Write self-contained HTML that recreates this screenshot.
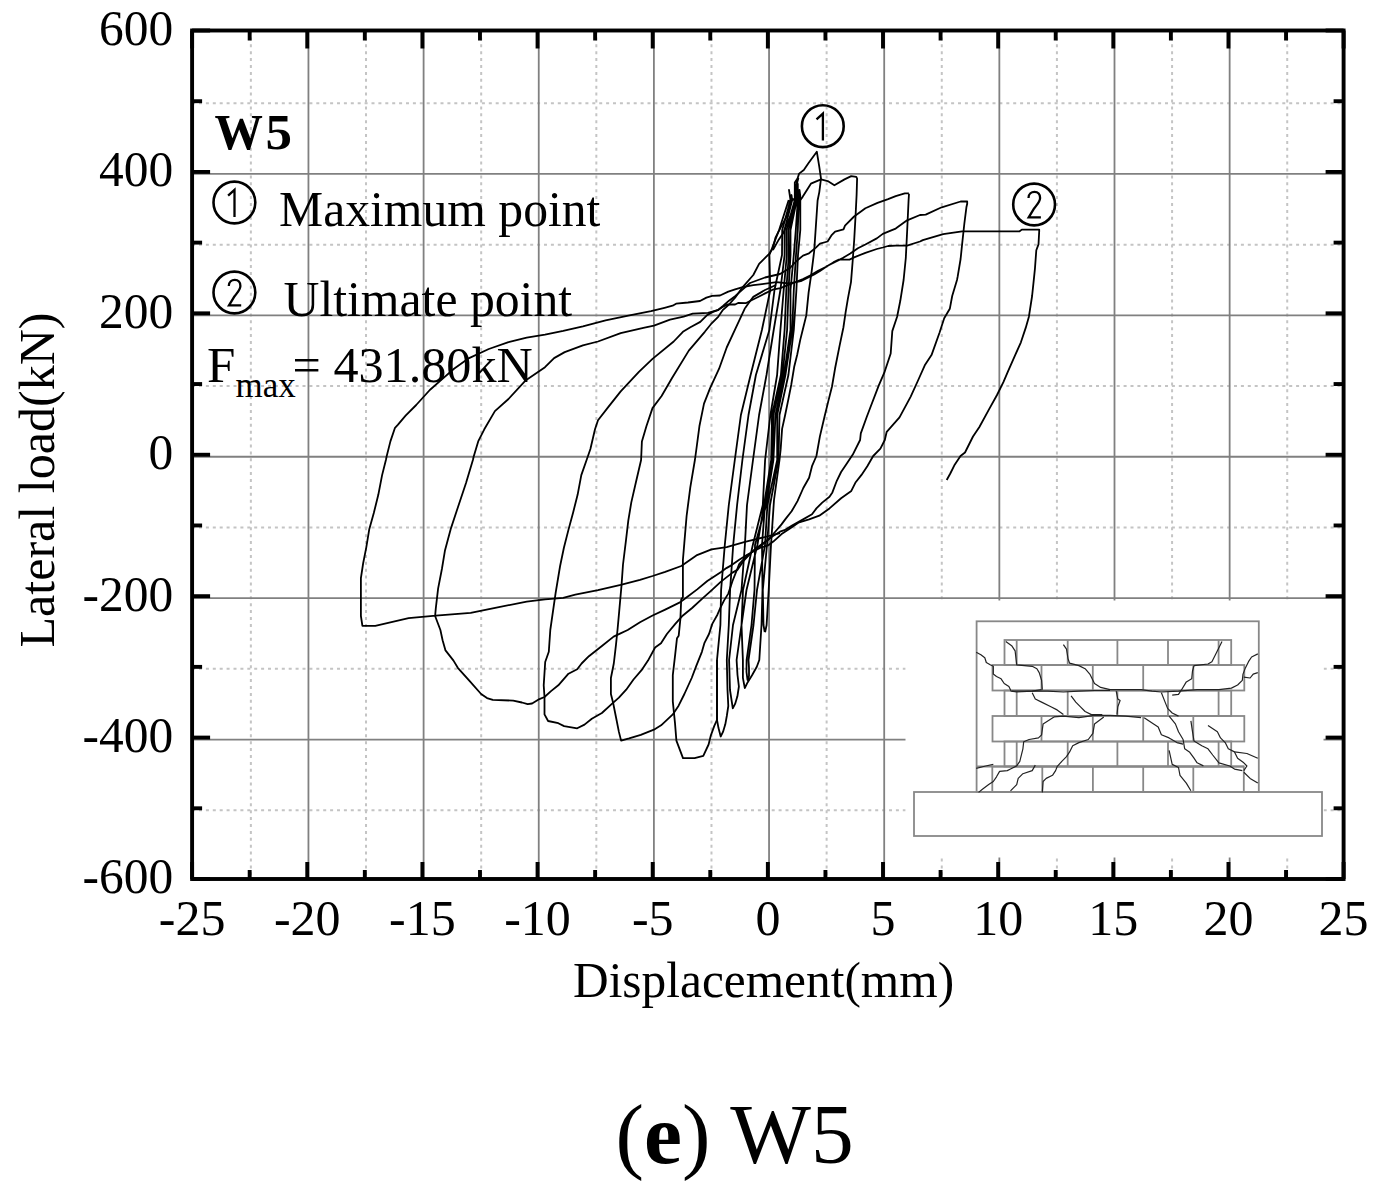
<!DOCTYPE html>
<html><head><meta charset="utf-8"><style>
html,body{margin:0;padding:0;background:#fff;}
body{width:1374px;height:1189px;overflow:hidden;position:relative;}
svg{position:absolute;left:0;top:0;}
text{font-family:"Liberation Serif",serif;fill:#000;}
.gd{stroke:#c4c4c4;stroke-width:2;stroke-dasharray:3 3.9;}
.gs{stroke:#808080;stroke-width:1.8;}
</style></head><body>
<svg width="1374" height="1189" viewBox="0 0 1374 1189">
<rect x="0" y="0" width="1374" height="1189" fill="#fff"/>
<g>
<line x1="250.87" y1="30.5" x2="250.87" y2="879.0" class="gd"/>
<line x1="366.02" y1="30.5" x2="366.02" y2="879.0" class="gd"/>
<line x1="481.18" y1="30.5" x2="481.18" y2="879.0" class="gd"/>
<line x1="596.33" y1="30.5" x2="596.33" y2="879.0" class="gd"/>
<line x1="711.48" y1="30.5" x2="711.48" y2="879.0" class="gd"/>
<line x1="826.63" y1="30.5" x2="826.63" y2="879.0" class="gd"/>
<line x1="941.78" y1="30.5" x2="941.78" y2="879.0" class="gd"/>
<line x1="1056.92" y1="30.5" x2="1056.92" y2="879.0" class="gd"/>
<line x1="1172.08" y1="30.5" x2="1172.08" y2="879.0" class="gd"/>
<line x1="1287.23" y1="30.5" x2="1287.23" y2="879.0" class="gd"/>
<line x1="192.1" y1="810.29" x2="1343.6" y2="810.29" class="gd"/>
<line x1="192.1" y1="668.87" x2="1343.6" y2="668.87" class="gd"/>
<line x1="192.1" y1="527.46" x2="1343.6" y2="527.46" class="gd"/>
<line x1="192.1" y1="386.04" x2="1343.6" y2="386.04" class="gd"/>
<line x1="192.1" y1="244.63" x2="1343.6" y2="244.63" class="gd"/>
<line x1="192.1" y1="103.21" x2="1343.6" y2="103.21" class="gd"/>
<line x1="308.45" y1="30.5" x2="308.45" y2="879.0" class="gs"/>
<line x1="423.60" y1="30.5" x2="423.60" y2="879.0" class="gs"/>
<line x1="538.75" y1="30.5" x2="538.75" y2="879.0" class="gs"/>
<line x1="653.90" y1="30.5" x2="653.90" y2="879.0" class="gs"/>
<line x1="769.05" y1="30.5" x2="769.05" y2="879.0" class="gs"/>
<line x1="884.20" y1="30.5" x2="884.20" y2="879.0" class="gs"/>
<line x1="999.35" y1="30.5" x2="999.35" y2="879.0" class="gs"/>
<line x1="1114.50" y1="30.5" x2="1114.50" y2="879.0" class="gs"/>
<line x1="1229.65" y1="30.5" x2="1229.65" y2="879.0" class="gs"/>
<line x1="192.1" y1="739.58" x2="1343.6" y2="739.58" class="gs"/>
<line x1="192.1" y1="598.17" x2="1343.6" y2="598.17" class="gs"/>
<line x1="192.1" y1="456.75" x2="1343.6" y2="456.75" class="gs"/>
<line x1="192.1" y1="315.33" x2="1343.6" y2="315.33" class="gs"/>
<line x1="192.1" y1="173.92" x2="1343.6" y2="173.92" class="gs"/>
</g>
<rect x="905.5" y="600.5" width="418" height="257" fill="#fff"/>
<rect x="914" y="792" width="408" height="44" stroke="#888" stroke-width="1.8" fill="none"/>
<rect x="976.6" y="621.3" width="282.2" height="170.7" stroke="#888" stroke-width="1.8" fill="none"/>
<rect x="1004.5" y="640" width="226.7" height="25.0" stroke="#888" stroke-width="1.8" fill="none"/>
<line x1="1016.7" y1="640" x2="1016.7" y2="665" stroke="#888" stroke-width="1.8" fill="none"/>
<line x1="1067.7" y1="640" x2="1067.7" y2="665" stroke="#888" stroke-width="1.8" fill="none"/>
<line x1="1117.4" y1="640" x2="1117.4" y2="665" stroke="#888" stroke-width="1.8" fill="none"/>
<line x1="1168" y1="640" x2="1168" y2="665" stroke="#888" stroke-width="1.8" fill="none"/>
<line x1="1218.6" y1="640" x2="1218.6" y2="665" stroke="#888" stroke-width="1.8" fill="none"/>
<rect x="992.5" y="665" width="251.8" height="25.5" stroke="#888" stroke-width="1.8" fill="none"/>
<line x1="1041.5" y1="665" x2="1041.5" y2="690.5" stroke="#888" stroke-width="1.8" fill="none"/>
<line x1="1092.8" y1="665" x2="1092.8" y2="690.5" stroke="#888" stroke-width="1.8" fill="none"/>
<line x1="1143.2" y1="665" x2="1143.2" y2="690.5" stroke="#888" stroke-width="1.8" fill="none"/>
<line x1="1193.3" y1="665" x2="1193.3" y2="690.5" stroke="#888" stroke-width="1.8" fill="none"/>
<rect x="1004.5" y="690.5" width="226.7" height="25.5" stroke="#888" stroke-width="1.8" fill="none"/>
<line x1="1016.7" y1="690.5" x2="1016.7" y2="716" stroke="#888" stroke-width="1.8" fill="none"/>
<line x1="1067.7" y1="690.5" x2="1067.7" y2="716" stroke="#888" stroke-width="1.8" fill="none"/>
<line x1="1117.4" y1="690.5" x2="1117.4" y2="716" stroke="#888" stroke-width="1.8" fill="none"/>
<line x1="1168" y1="690.5" x2="1168" y2="716" stroke="#888" stroke-width="1.8" fill="none"/>
<line x1="1218.6" y1="690.5" x2="1218.6" y2="716" stroke="#888" stroke-width="1.8" fill="none"/>
<rect x="992.5" y="716" width="251.8" height="25.5" stroke="#888" stroke-width="1.8" fill="none"/>
<line x1="1041.5" y1="716" x2="1041.5" y2="741.5" stroke="#888" stroke-width="1.8" fill="none"/>
<line x1="1092.8" y1="716" x2="1092.8" y2="741.5" stroke="#888" stroke-width="1.8" fill="none"/>
<line x1="1143.2" y1="716" x2="1143.2" y2="741.5" stroke="#888" stroke-width="1.8" fill="none"/>
<line x1="1193.3" y1="716" x2="1193.3" y2="741.5" stroke="#888" stroke-width="1.8" fill="none"/>
<rect x="1004.5" y="741.5" width="226.7" height="25.0" stroke="#888" stroke-width="1.8" fill="none"/>
<line x1="1016.7" y1="741.5" x2="1016.7" y2="766.5" stroke="#888" stroke-width="1.8" fill="none"/>
<line x1="1067.7" y1="741.5" x2="1067.7" y2="766.5" stroke="#888" stroke-width="1.8" fill="none"/>
<line x1="1117.4" y1="741.5" x2="1117.4" y2="766.5" stroke="#888" stroke-width="1.8" fill="none"/>
<line x1="1168" y1="741.5" x2="1168" y2="766.5" stroke="#888" stroke-width="1.8" fill="none"/>
<line x1="1218.6" y1="741.5" x2="1218.6" y2="766.5" stroke="#888" stroke-width="1.8" fill="none"/>
<rect x="992.3" y="766.5" width="251.5" height="25.5" stroke="#888" stroke-width="1.8" fill="none"/>
<line x1="1042.3" y1="766.5" x2="1042.3" y2="792" stroke="#888" stroke-width="1.8" fill="none"/>
<line x1="1092.9" y1="766.5" x2="1092.9" y2="792" stroke="#888" stroke-width="1.8" fill="none"/>
<line x1="1143.2" y1="766.5" x2="1143.2" y2="792" stroke="#888" stroke-width="1.8" fill="none"/>
<line x1="1193.3" y1="766.5" x2="1193.3" y2="792" stroke="#888" stroke-width="1.8" fill="none"/>
<line x1="976.6" y1="766.5" x2="1244" y2="766.5" stroke="#888" stroke-width="1.8" fill="none"/>
<g fill="none" stroke="#222" stroke-width="1.2" stroke-linejoin="round">
<path d="M976.2 652.3 L980.9 654.7 L984.8 657.8 L986.3 662.5 L990.2 664.8 L993.3 666.3 L993.3 674.1 L996.5 676.5 L1001.1 678.8 L1004.2 683.5 L1008.9 686.6 L1011.2 691.2 L1016.7 692.0 L1032.2 691.2 L1041.6 689.7"/>
<path d="M1005.8 641.5 L1012.0 646.1 L1015.1 650.8 L1016.7 664.8 L1032.2 666.3 L1036.9 668.7 L1039.2 672.6 L1041.6 680.3 L1042.3 689.7"/>
<path d="M1063.4 644.6 L1066.5 649.2 L1068.0 658.6 L1069.6 663.2 L1078.9 665.6 L1085.1 668.7 L1089.8 674.1 L1092.9 680.3 L1094.5 683.5 L1100.7 687.4 L1110.0 689.7 L1125.6 689.7 L1141.1 689.7 L1152.0 691.2 L1161.4 692.0 L1178.5 691.2 L1197.1 689.7 L1218.9 689.7 L1231.4 688.1 L1237.6 685.0 L1242.3 680.4 L1243.0 674.1 L1245.4 667.9 L1248.5 661.7 L1251.6 657.0 L1257.8 653.9"/>
<path d="M1012.0 691.2 L1047.8 691.2 L1063.4 692.0 L1078.9 691.2 L1094.5 690.5 L1110.0 690.5"/>
<path d="M1032.2 692.8 L1035.3 699.0 L1041.6 702.1 L1050.9 706.8 L1057.1 709.9 L1063.4 714.6"/>
<path d="M1071.1 695.9 L1075.8 702.1 L1080.5 706.8 L1085.1 711.5 L1091.4 714.6 L1102.3 714.6"/>
<path d="M1054.0 716.9 L1063.4 716.1 L1078.9 717.7 L1094.5 715.4 L1105.4 715.4 L1110.0 715.4 L1125.6 716.1 L1141.1 717.7"/>
<path d="M1054.0 716.9 L1043.1 723.9 L1041.6 734.8 L1038.5 737.9 L1029.1 739.5 L1023.7 741.8 L1022.9 748.8 L1019.8 761.3 L1016.7 765.9 L1010.5 769.0 L1007.3 770.6 L999.6 771.4 L996.5 776.8 L993.3 781.5 L988.7 784.6 L982.4 789.3 L978.6 792.4"/>
<path d="M1103.8 716.9 L1094.5 723.9 L1092.9 733.3 L1088.3 739.5 L1078.9 742.6 L1072.7 745.7 L1069.6 751.9 L1066.5 756.6 L1061.8 761.3 L1057.1 766.7 L1055.6 770.6 L1052.5 775.3 L1046.2 778.4 L1043.1 781.5 L1042.3 792.4"/>
<path d="M1035.3 765.1 L1032.2 770.6 L1022.9 773.7 L1018.2 778.4 L1016.7 784.6 L1010.5 790.8"/>
<path d="M976.2 768.3 L985.6 766.0 L993.3 764.4"/>
<path d="M1222.0 641.5 L1218.9 647.7 L1215.8 653.9 L1211.9 661.7 L1208.0 664.0 L1194.0 665.6 L1192.5 671.0 L1191.7 678.8 L1186.3 681.9 L1181.6 689.7 L1178.5 694.4 L1172.2 695.1"/>
<path d="M1243.8 677.2 L1250.1 678.0 L1253.2 674.1 L1257.8 672.6"/>
<path d="M1116.2 691.2 L1117.8 699.0 L1120.1 700.6 L1117.8 706.8 L1117.0 714.6"/>
<path d="M1161.4 692.8 L1164.5 700.6 L1167.6 708.4 L1172.2 713.0 L1178.5 716.1"/>
<path d="M1169.1 716.1 L1175.4 723.9 L1178.5 731.7 L1183.1 739.5 L1184.7 748.8 L1189.4 751.9 L1194.0 758.2 L1197.1 762.8 L1203.4 765.9"/>
<path d="M1144.2 717.7 L1153.6 723.9 L1158.2 727.0 L1161.4 734.8 L1169.1 737.9 L1176.9 742.6 L1183.1 744.2"/>
<path d="M1190.9 720.8 L1192.5 731.7 L1194.0 741.0 L1201.8 745.7 L1208.0 748.8 L1212.7 755.0 L1218.9 762.8 L1229.8 766.0 L1234.5 769.1 L1242.3 770.6"/>
<path d="M1208.0 725.5 L1217.4 731.7 L1220.5 737.9 L1225.2 742.6 L1228.3 748.8 L1234.5 751.9 L1237.6 758.2 L1243.8 762.8 L1246.9 766.0 L1243.8 770.6"/>
<path d="M1234.5 751.9 L1246.9 753.5 L1257.8 758.2"/>
<path d="M1243.8 772.2 L1250.1 778.4 L1257.8 783.1"/>
<path d="M1169.1 750.4 L1172.2 764.4 L1178.5 767.5 L1180.0 775.3 L1186.3 783.1 L1190.9 790.8"/>
</g>
<g fill="none" stroke="#000" stroke-width="1.8" stroke-linejoin="round">
<path d="M780.0 533.2 L765.0 537.0 L752.1 540.1 L745.0 541.8 L726.7 547.1 L711.5 549.3 L696.4 555.4 L681.3 566.0 L665.2 571.8 L652.6 576.0 L640.0 579.8 L620.7 584.9 L598.0 590.2 L575.3 594.7 L563.2 597.8 L545.0 599.3 L526.7 601.6 L496.4 607.6 L470.7 612.9 L435.8 615.6 L408.6 618.2 L375.3 625.8 L362.4 625.8 L360.9 616.0 L360.9 578.1 L363.2 563.0 L366.2 547.8 L369.2 529.6 L373.8 513.0 L378.3 494.8 L382.1 475.1 L385.9 460.0 L386.6 456.5 L390.4 441.4 L395.0 427.8 L398.0 424.7 L405.6 415.7 L416.2 405.0 L423.0 397.5 L429.8 390.0 L441.9 379.3 L454.0 368.7 L469.1 358.1 L488.8 349.0 L508.5 342.2 L526.7 337.7 L545.0 334.7 L563.2 330.9 L582.9 326.3 L605.6 320.3 L628.3 315.7 L651.0 311.2 L664.5 307.8 L672.6 305.7 L676.1 303.7 L688.0 302.5 L700.0 301.0 L706.4 297.6 L712.2 295.8 L720.0 295.5 L728.3 291.6 L735.1 289.4 L742.7 287.1 L753.3 285.2 L760.0 284.4 L776.5 282.1 L789.0 283.5 L800.8 281.2 L814.2 274.5 L820.0 271.0 L827.6 265.7 L835.1 261.9 L842.7 258.1 L850.3 253.6 L857.9 248.3 L865.4 244.5 L876.8 238.4 L882.8 233.9 L891.9 230.1 L895.7 228.6 L907.1 220.3 L920.0 215.0 L925.7 214.6 L941.7 207.3 L960.6 201.5 L967.2 201.5 L967.2 203.7 L966.4 207.3 L964.3 224.0 L962.1 244.4 L960.6 259.0 L957.7 276.4 L957.0 280.0 L952.2 296.0 L949.8 308.8 L944.2 318.3 L939.5 332.7 L931.5 355.1 L925.1 364.7 L918.7 379.0 L910.7 396.6 L899.5 417.4 L886.7 431.8 L884.8 440.0 L880.4 448.7 L873.2 456.0 L867.3 466.2 L861.5 474.9 L855.7 482.2 L851.3 490.9 L841.1 498.2 L829.5 508.4 L819.3 515.7 L809.1 519.3 L798.3 522.7 L790.7 528.0 L781.6 534.1 L773.3 541.6 L768.0 545.4 L760.4 547.7 L747.6 554.5 L739.2 559.8 L731.7 565.1 L726.4 568.1 L721.1 571.9 L707.3 581.0 L697.2 589.4 L687.1 597.0 L680.4 602.1 L665.2 609.6 L652.6 615.5 L640.0 622.2 L627.7 630.0 L620.0 633.6 L613.6 636.6 L601.9 646.0 L588.9 656.2 L581.6 663.5 L577.2 669.3 L568.5 673.7 L558.3 685.3 L551.0 691.1 L544.5 697.0 L539.4 699.1 L532.1 703.5 L527.7 704.2 L521.9 702.5 L513.2 700.6 L492.8 699.9 L487.0 698.1 L481.1 694.0 L469.5 680.9 L457.8 667.8 L453.5 660.6 L445.5 650.4 L442.6 640.2 L440.4 630.0 L435.1 616.0 L435.8 608.4 L438.1 588.7 L441.9 569.0 L444.9 550.8 L451.0 528.1 L457.0 510.0 L466.1 482.7 L472.9 460.0 L473.7 456.5 L478.2 441.4 L484.3 429.3 L494.9 411.1 L508.5 399.0 L525.2 380.8 L545.0 367.2 L554.1 358.1 L564.7 352.1 L582.9 345.3 L598.0 341.5 L620.7 333.1 L643.4 327.9 L654.0 325.6 L670.0 319.6 L683.6 316.6 L692.7 313.6 L707.9 312.8 L718.4 309.8 L723.0 306.8 L727.5 304.5 L735.1 304.5 L738.1 303.0 L745.7 303.2 L750.0 301.0 L757.6 297.2 L765.1 293.4 L772.7 289.7 L780.3 288.1 L795.4 282.1 L803.0 279.1 L810.6 275.3 L818.1 270.7 L825.7 267.0 L833.3 262.4 L838.9 259.6 L849.5 259.6 L854.1 257.4 L865.4 252.8 L876.8 249.0 L882.8 247.5 L888.1 246.0 L895.7 245.6 L907.1 245.6 L920.0 241.5 L922.8 240.1 L943.2 234.2 L962.1 231.3 L981.0 231.3 L998.5 231.3 L1019.6 231.3 L1021.8 229.6 L1039.2 229.6 L1039.2 231.3 L1038.5 244.4 L1036.3 250.2 L1034.9 269.2 L1033.4 283.7 L1032.1 296.0 L1028.9 316.7 L1025.7 327.9 L1020.9 342.3 L1014.5 356.7 L1008.1 371.1 L1003.4 382.2 L997.0 395.0 L989.0 409.4 L979.4 427.0 L973.0 436.5 L965.0 452.5 L960.5 456.0 L954.7 464.7 L950.3 473.5 L946.7 480.0"/>
<path d="M909.0 193.8 L908.6 200.0 L907.2 230.0 L905.8 258.0 L903.6 280.0 L900.3 300.8 L897.1 316.7 L892.3 331.1 L890.7 353.5 L884.3 372.7 L878.8 385.4 L870.8 406.2 L866.8 416.7 L860.8 433.4 L860.1 440.0 L852.8 454.6 L847.0 463.3 L841.1 472.0 L836.8 480.8 L832.4 492.4 L829.5 496.8 L822.2 502.6 L816.4 508.4 L812.0 514.2 L801.8 520.1 L791.6 525.9 L784.4 530.2 L780.0 531.7 L773.0 536.0 L762.0 544.0 L752.8 551.0 L743.8 560.6 L737.7 569.6 L732.5 572.6 L720.7 581.9 L711.5 590.3 L703.1 597.8 L692.1 608.0 L682.0 616.3 L675.3 623.9 L666.9 634.0 L661.0 643.3 L655.1 647.5 L648.0 660.6 L642.2 669.3 L633.5 679.5 L626.2 689.7 L618.9 697.7 L611.6 704.2 L601.9 713.0 L591.8 718.8 L584.5 724.6 L577.2 728.3 L564.1 726.1 L558.3 723.2 L548.1 721.0 L544.5 714.4 L544.5 697.0 L543.7 685.3 L545.2 662.0 L548.8 651.8 L550.3 630.0 L555.6 593.2 L560.1 566.0 L563.9 547.8 L568.5 529.6 L573.0 513.0 L577.6 494.8 L581.3 475.1 L586.6 460.0 L590.4 449.0 L595.0 429.3 L598.0 420.2 L608.6 406.6 L620.7 391.4 L638.9 371.8 L652.5 358.9 L673.7 341.5 L682.9 331.8 L690.4 327.2 L700.3 321.9 L707.1 315.1 L712.4 312.1 L718.4 309.8 L723.0 306.0 L729.0 300.7 L735.1 296.2 L741.9 290.1 L750.0 283.0 L765.0 277.5 L780.0 274.0 L790.0 268.0 L796.0 261.5 L803.0 255.6 L809.0 253.3 L815.9 247.6 L820.0 243.7 L827.6 241.5 L831.4 235.4 L835.1 231.6 L843.5 229.4 L845.0 225.6 L854.1 216.5 L865.4 208.2 L877.5 202.9 L888.1 199.1 L895.7 196.1 L904.8 193.4 L908.9 193.4"/>
<path d="M797.4 203.8 L802.5 197.1 L810.9 183.7 L821.0 179.4 L827.7 181.1 L834.4 185.3 L844.5 179.4 L851.2 176.1 L856.3 176.9 L857.1 178.6 L856.6 195.0 L855.6 215.0 L854.2 240.0 L852.6 262.0 L851.0 282.1 L847.9 298.7 L845.6 312.4 L843.4 327.5 L839.6 345.6 L835.1 368.3 L832.0 386.5 L828.2 401.6 L824.5 416.7 L819.9 436.4 L816.4 456.0 L812.0 466.2 L809.1 477.8 L803.3 488.0 L797.5 501.1 L791.6 511.3 L785.8 518.6 L781.5 524.4 L775.0 532.0 L768.0 540.0 L760.4 546.0 L752.0 552.0 L743.8 559.0 L739.2 564.2 L732.5 581.0 L728.3 593.6 L724.1 600.4 L720.7 607.1 L717.4 614.7 L712.3 623.9 L709.0 634.0 L704.5 642.8 L701.9 651.8 L696.1 666.4 L691.7 678.0 L684.4 694.0 L678.6 705.7 L672.8 714.4 L661.1 725.3 L653.9 729.7 L640.8 734.8 L629.1 738.4 L621.1 740.6 L618.9 731.9 L616.0 717.3 L613.1 702.8 L610.9 694.0 L610.9 678.0 L613.8 663.5 L616.0 644.6 L617.5 630.0 L619.2 611.4 L621.5 585.7 L623.0 564.5 L626.0 540.2 L628.3 520.6 L631.3 502.4 L635.8 482.7 L641.1 460.0 L641.9 441.4 L646.4 426.3 L652.5 408.1 L661.6 396.0 L672.2 377.8 L688.8 350.6 L704.8 331.8 L710.9 324.2 L718.4 316.6 L723.0 309.8 L729.0 304.5 L735.1 297.7 L742.7 287.1 L753.3 275.0 L759.1 263.9 L765.1 257.9 L768.9 254.1 L772.7 248.8 L775.6 237.3 L780.9 227.2 L786.3 217.1 L789.0 209.0 L790.4 200.3 L793.0 198.9 L797.4 203.8"/>
<path d="M772.9 250.0 L778.2 240.6 L783.6 232.5 L788.2 220.7 L793.3 210.6 L796.6 195.0 L796.4 182.0 L799.1 173.6 L803.8 170.0 L808.4 163.2 L816.8 151.7 L819.3 166.8 L821.0 178.6 L819.3 192.1 L817.6 200.5 L815.9 225.7 L814.2 251.0 L811.7 271.2 L808.6 292.7 L806.3 315.4 L803.3 327.5 L800.3 339.6 L797.2 354.7 L794.2 366.8 L791.2 385.0 L788.2 400.1 L785.1 415.2 L782.1 428.9 L780.6 449.9 L779.5 460.0 L774.0 500.0 L771.0 545.0 L768.7 590.0 L766.6 625.0 L765.1 632.2"/>
<path d="M745.0 308.2 L735.8 327.9 L726.7 347.5 L719.1 368.7 L710.0 388.4 L704.0 403.6 L699.4 426.3 L696.4 449.0 L694.9 460.0 L690.3 487.3 L686.6 516.0 L684.3 543.3 L682.9 560.0 L682.9 597.0 L681.2 599.5 L680.4 618.9 L678.7 635.7 L677.0 638.2 L675.0 656.2 L672.8 675.1 L672.8 701.3 L675.0 723.2 L676.4 740.6 L683.0 758.1 L694.6 758.1 L703.3 755.9 L708.6 744.5 L710.7 735.9 L714.3 725.9 L717.0 719.8 L717.0 700.0 L717.0 660.0"/>
<path d="M745.0 308.2 L748.7 303.0 L753.3 296.9 L765.0 290.0 L776.0 285.0"/>
<path d="M788.7 200.0 L779.1 230.0 L769.4 255.0 L770.3 290.0 L761.9 330.0 L750.6 375.0 L740.9 415.0 L734.8 460.0 L728.8 505.0 L724.8 545.0 L721.1 590.0 L720.4 625.0 L717.0 660.0 L717.0 700.0 L717.0 720.0 L718.5 728.1 L720.7 736.5 L723.0 731.9 L725.3 724.3 L726.8 716.0 L728.3 706.0 L727.5 690.0 L726.8 660.0 L728.8 625.0 L730.1 590.0 L733.2 545.0 L737.1 505.0 L742.4 460.0 L748.5 415.0 L755.9 375.0 L769.4 330.0 L774.5 290.0 L782.0 255.0 L782.2 230.0 L790.5 200.0 L789.0 190.0 L790.4 199.3 L791.5 195.0 L792.2 200.0 L784.5 230.0 L784.6 255.0 L780.4 290.0 L773.7 330.0 L766.5 375.0 L759.1 415.0 L753.0 460.0 L747.0 505.0 L744.9 545.0 L741.5 590.0 L733.0 625.0 L729.1 660.0 L730.0 690.0 L732.8 708.4 L735.1 703.9 L737.4 696.3 L738.9 686.5 L737.5 675.0 L736.6 660.0 L741.5 625.0 L743.0 590.0 L752.8 545.0 L762.8 505.0 L765.1 460.0 L770.4 415.0 L777.1 375.0 L780.4 330.0 L783.7 290.0 L786.8 255.0 L786.5 230.0 L794.8 200.0 L794.8 182.6 L796.8 179.6 L798.3 178.6 L796.5 185.0 L795.8 200.0 L788.5 230.0 L788.8 255.0 L786.3 290.0 L784.6 330.0 L780.9 375.0 L772.0 415.0 L771.2 460.0 L764.0 505.0 L757.4 545.0 L746.5 590.0 L741.5 625.0 L742.9 660.0 L742.9 677.8 L744.8 688.0 L747.6 682.4 L752.2 675.0 L756.8 666.7 L759.3 660.0 L761.5 625.0 L762.5 590.0 L762.0 545.0 L765.0 505.0 L772.3 460.0 L773.4 415.0 L782.5 375.0 L787.1 330.0 L788.5 290.0 L790.5 255.0 L790.5 230.0 L796.8 200.0 L797.0 182.0 L797.8 184.0 L797.8 200.0 L795.8 230.0 L793.8 255.0 L790.5 290.0 L790.5 330.0 L784.0 375.0 L775.5 415.0 L773.4 460.0 L766.2 505.0 L755.0 545.0 L754.5 590.0 L751.5 625.0 L746.6 660.0 L746.5 672.0 L747.5 680.0 L749.0 676.0 L749.0 668.0 L748.5 660.0 L753.5 625.0 L757.0 590.0 L765.0 545.0 L767.4 505.0 L777.2 460.0 L777.2 415.0 L785.4 375.0 L792.2 330.0 L793.8 290.0 L796.0 255.0 L797.8 230.0 L798.8 200.0 L799.5 190.0 L800.3 196.0 L800.3 200.0 L800.3 230.0 L798.0 255.0 L796.4 290.0 L793.8 330.0 L788.4 375.0 L779.5 415.0 L778.5 460.0 L770.0 505.0 L767.0 545.0 L762.8 590.0 L763.5 625.0 L764.7 632.0"/>
</g>
<g stroke="#000" stroke-width="3.9">
<line x1="192.10" y1="30.5" x2="192.10" y2="48.5"/>
<line x1="192.10" y1="879.0" x2="192.10" y2="862.0"/>
<line x1="249.67" y1="30.5" x2="249.67" y2="40.5"/>
<line x1="249.67" y1="879.0" x2="249.67" y2="870.0"/>
<line x1="307.25" y1="30.5" x2="307.25" y2="48.5"/>
<line x1="307.25" y1="879.0" x2="307.25" y2="862.0"/>
<line x1="364.82" y1="30.5" x2="364.82" y2="40.5"/>
<line x1="364.82" y1="879.0" x2="364.82" y2="870.0"/>
<line x1="422.40" y1="30.5" x2="422.40" y2="48.5"/>
<line x1="422.40" y1="879.0" x2="422.40" y2="862.0"/>
<line x1="479.98" y1="30.5" x2="479.98" y2="40.5"/>
<line x1="479.98" y1="879.0" x2="479.98" y2="870.0"/>
<line x1="537.55" y1="30.5" x2="537.55" y2="48.5"/>
<line x1="537.55" y1="879.0" x2="537.55" y2="862.0"/>
<line x1="595.12" y1="30.5" x2="595.12" y2="40.5"/>
<line x1="595.12" y1="879.0" x2="595.12" y2="870.0"/>
<line x1="652.70" y1="30.5" x2="652.70" y2="48.5"/>
<line x1="652.70" y1="879.0" x2="652.70" y2="862.0"/>
<line x1="710.27" y1="30.5" x2="710.27" y2="40.5"/>
<line x1="710.27" y1="879.0" x2="710.27" y2="870.0"/>
<line x1="767.85" y1="30.5" x2="767.85" y2="48.5"/>
<line x1="767.85" y1="879.0" x2="767.85" y2="862.0"/>
<line x1="825.43" y1="30.5" x2="825.43" y2="40.5"/>
<line x1="825.43" y1="879.0" x2="825.43" y2="870.0"/>
<line x1="883.00" y1="30.5" x2="883.00" y2="48.5"/>
<line x1="883.00" y1="879.0" x2="883.00" y2="862.0"/>
<line x1="940.58" y1="30.5" x2="940.58" y2="40.5"/>
<line x1="940.58" y1="879.0" x2="940.58" y2="870.0"/>
<line x1="998.15" y1="30.5" x2="998.15" y2="48.5"/>
<line x1="998.15" y1="879.0" x2="998.15" y2="862.0"/>
<line x1="1055.72" y1="30.5" x2="1055.72" y2="40.5"/>
<line x1="1055.72" y1="879.0" x2="1055.72" y2="870.0"/>
<line x1="1113.30" y1="30.5" x2="1113.30" y2="48.5"/>
<line x1="1113.30" y1="879.0" x2="1113.30" y2="862.0"/>
<line x1="1170.88" y1="30.5" x2="1170.88" y2="40.5"/>
<line x1="1170.88" y1="879.0" x2="1170.88" y2="870.0"/>
<line x1="1228.45" y1="30.5" x2="1228.45" y2="48.5"/>
<line x1="1228.45" y1="879.0" x2="1228.45" y2="862.0"/>
<line x1="1286.03" y1="30.5" x2="1286.03" y2="40.5"/>
<line x1="1286.03" y1="879.0" x2="1286.03" y2="870.0"/>
<line x1="1343.60" y1="30.5" x2="1343.60" y2="48.5"/>
<line x1="1343.60" y1="879.0" x2="1343.60" y2="862.0"/>
<line x1="192.1" y1="879.00" x2="210.1" y2="879.00"/>
<line x1="1343.6" y1="879.00" x2="1325.6" y2="879.00"/>
<line x1="192.1" y1="808.29" x2="202.1" y2="808.29"/>
<line x1="1343.6" y1="808.29" x2="1333.6" y2="808.29"/>
<line x1="192.1" y1="737.58" x2="210.1" y2="737.58"/>
<line x1="1343.6" y1="737.58" x2="1325.6" y2="737.58"/>
<line x1="192.1" y1="666.87" x2="202.1" y2="666.87"/>
<line x1="1343.6" y1="666.87" x2="1333.6" y2="666.87"/>
<line x1="192.1" y1="596.17" x2="210.1" y2="596.17"/>
<line x1="1343.6" y1="596.17" x2="1325.6" y2="596.17"/>
<line x1="192.1" y1="525.46" x2="202.1" y2="525.46"/>
<line x1="1343.6" y1="525.46" x2="1333.6" y2="525.46"/>
<line x1="192.1" y1="454.75" x2="210.1" y2="454.75"/>
<line x1="1343.6" y1="454.75" x2="1325.6" y2="454.75"/>
<line x1="192.1" y1="384.04" x2="202.1" y2="384.04"/>
<line x1="1343.6" y1="384.04" x2="1333.6" y2="384.04"/>
<line x1="192.1" y1="313.33" x2="210.1" y2="313.33"/>
<line x1="1343.6" y1="313.33" x2="1325.6" y2="313.33"/>
<line x1="192.1" y1="242.63" x2="202.1" y2="242.63"/>
<line x1="1343.6" y1="242.63" x2="1333.6" y2="242.63"/>
<line x1="192.1" y1="171.92" x2="210.1" y2="171.92"/>
<line x1="1343.6" y1="171.92" x2="1325.6" y2="171.92"/>
<line x1="192.1" y1="101.21" x2="202.1" y2="101.21"/>
<line x1="1343.6" y1="101.21" x2="1333.6" y2="101.21"/>
<line x1="192.1" y1="30.50" x2="210.1" y2="30.50"/>
<line x1="1343.6" y1="30.50" x2="1325.6" y2="30.50"/>
</g>
<rect x="192.10" y="30.50" width="1151.50" height="848.50" fill="none" stroke="#000" stroke-width="3.9"/>
<g font-size="51">
<text transform="translate(173.3,893.3) scale(0.97,1)" text-anchor="end">-600</text>
<text transform="translate(173.3,751.9) scale(0.97,1)" text-anchor="end">-400</text>
<text transform="translate(173.3,610.5) scale(0.97,1)" text-anchor="end">-200</text>
<text transform="translate(173.3,469.1) scale(0.97,1)" text-anchor="end">0</text>
<text transform="translate(173.3,327.6) scale(0.97,1)" text-anchor="end">200</text>
<text transform="translate(173.3,186.2) scale(0.97,1)" text-anchor="end">400</text>
<text transform="translate(173.3,44.8) scale(0.97,1)" text-anchor="end">600</text>
<text transform="translate(192.1,934.5) scale(0.98,1)" text-anchor="middle">-25</text>
<text transform="translate(307.2,934.5) scale(0.98,1)" text-anchor="middle">-20</text>
<text transform="translate(422.4,934.5) scale(0.98,1)" text-anchor="middle">-15</text>
<text transform="translate(537.5,934.5) scale(0.98,1)" text-anchor="middle">-10</text>
<text transform="translate(652.7,934.5) scale(0.98,1)" text-anchor="middle">-5</text>
<text transform="translate(767.9,934.5) scale(0.98,1)" text-anchor="middle">0</text>
<text transform="translate(883.0,934.5) scale(0.98,1)" text-anchor="middle">5</text>
<text transform="translate(998.2,934.5) scale(0.98,1)" text-anchor="middle">10</text>
<text transform="translate(1113.3,934.5) scale(0.98,1)" text-anchor="middle">15</text>
<text transform="translate(1228.5,934.5) scale(0.98,1)" text-anchor="middle">20</text>
<text transform="translate(1343.6,934.5) scale(0.98,1)" text-anchor="middle">25</text>
<text transform="translate(573,996.8) scale(0.968,1)">Displacement(mm)</text>
<text transform="translate(54,647.5) rotate(-90) scale(0.982,1)">Lateral load(kN)</text>
<text transform="translate(214.5,148.8) scale(0.95,1)" font-weight="bold">W</text>
<text transform="translate(265.5,148.8) scale(1.04,1)" font-weight="bold">5</text>
<text transform="translate(279,225.8) scale(0.974,1)">Maximum point</text>
<text transform="translate(283.5,316.2) scale(0.975,1)">Ultimate point</text>
<text transform="translate(207,382.4)">F</text>
<text transform="translate(235.5,397)" font-size="35">max</text>
<text transform="translate(292.6,382.4) scale(0.984,1)">= 431.80kN</text>
</g>
<g fill="none" stroke="#000" stroke-width="2.6">
<circle cx="234.4" cy="202.5" r="20.9"/><path stroke-width="2.3" d="M228.1 195.7 L234.5 189.9 L234.5 216.9"/>
<circle cx="234.4" cy="292.5" r="20.9"/><path stroke-width="2.3" d="M228.8 286.0 C228.8 281.7 231.9 279.9 234.8 279.9 C238.4 279.9 240.4 282.5 240.4 285.9 C240.4 289.5 237.4 292.5 234.4 296.5 L229.0 305.4 L241.2 305.4"/>
<circle cx="822.8" cy="126.2" r="20.9"/><path stroke-width="2.3" d="M816.5 119.4 L822.9 113.6 L822.9 140.6"/>
<circle cx="1034.1" cy="204.5" r="20.9"/><path stroke-width="2.3" d="M1028.5 198.0 C1028.5 193.7 1031.6 191.9 1034.5 191.9 C1038.1 191.9 1040.1 194.5 1040.1 197.9 C1040.1 201.5 1037.1 204.5 1034.1 208.5 L1028.7 217.4 L1040.9 217.4"/>
</g>
<text transform="translate(615.5,1163.4)" font-size="85.5">(<tspan font-weight="bold">e</tspan>) W5</text>
</svg>
</body></html>
